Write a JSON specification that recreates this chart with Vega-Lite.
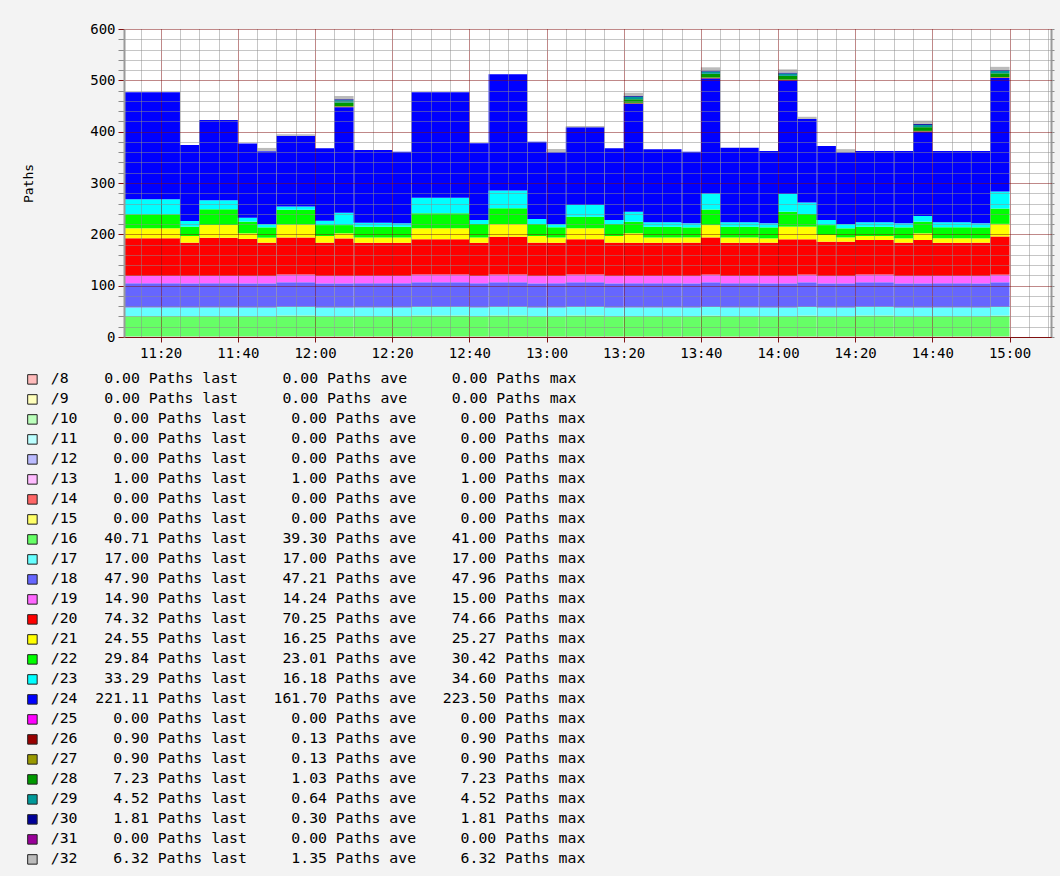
{
"$schema": "https://vega.github.io/schema/vega-lite/v6.json",
"width": 927, "height": 308,
"autosize": {"type": "none"},
"padding": {"left": 124, "top": 29, "right": 9, "bottom": 539},
"background": "#f3f3f3",
"config": {"font": "DejaVu Sans Mono", "view": {"fill": "#ffffff", "stroke": null}},
"datasets": {"legend": [
{"k":8,"entry":"/8\u00a0\u00a0\u00a0\u00a00.00 Paths last\u00a0\u00a0\u00a0\u00a0\u00a00.00 Paths ave\u00a0\u00a0\u00a0\u00a0\u00a00.00 Paths max"},
{"k":9,"entry":"/9\u00a0\u00a0\u00a0\u00a00.00 Paths last\u00a0\u00a0\u00a0\u00a0\u00a00.00 Paths ave\u00a0\u00a0\u00a0\u00a0\u00a00.00 Paths max"},
{"k":10,"entry":"/10\u00a0\u00a0\u00a0\u00a00.00 Paths last\u00a0\u00a0\u00a0\u00a0\u00a00.00 Paths ave\u00a0\u00a0\u00a0\u00a0\u00a00.00 Paths max"},
{"k":11,"entry":"/11\u00a0\u00a0\u00a0\u00a00.00 Paths last\u00a0\u00a0\u00a0\u00a0\u00a00.00 Paths ave\u00a0\u00a0\u00a0\u00a0\u00a00.00 Paths max"},
{"k":12,"entry":"/12\u00a0\u00a0\u00a0\u00a00.00 Paths last\u00a0\u00a0\u00a0\u00a0\u00a00.00 Paths ave\u00a0\u00a0\u00a0\u00a0\u00a00.00 Paths max"},
{"k":13,"entry":"/13\u00a0\u00a0\u00a0\u00a01.00 Paths last\u00a0\u00a0\u00a0\u00a0\u00a01.00 Paths ave\u00a0\u00a0\u00a0\u00a0\u00a01.00 Paths max"},
{"k":14,"entry":"/14\u00a0\u00a0\u00a0\u00a00.00 Paths last\u00a0\u00a0\u00a0\u00a0\u00a00.00 Paths ave\u00a0\u00a0\u00a0\u00a0\u00a00.00 Paths max"},
{"k":15,"entry":"/15\u00a0\u00a0\u00a0\u00a00.00 Paths last\u00a0\u00a0\u00a0\u00a0\u00a00.00 Paths ave\u00a0\u00a0\u00a0\u00a0\u00a00.00 Paths max"},
{"k":16,"entry":"/16\u00a0\u00a0\u00a040.71 Paths last\u00a0\u00a0\u00a0\u00a039.30 Paths ave\u00a0\u00a0\u00a0\u00a041.00 Paths max"},
{"k":17,"entry":"/17\u00a0\u00a0\u00a017.00 Paths last\u00a0\u00a0\u00a0\u00a017.00 Paths ave\u00a0\u00a0\u00a0\u00a017.00 Paths max"},
{"k":18,"entry":"/18\u00a0\u00a0\u00a047.90 Paths last\u00a0\u00a0\u00a0\u00a047.21 Paths ave\u00a0\u00a0\u00a0\u00a047.96 Paths max"},
{"k":19,"entry":"/19\u00a0\u00a0\u00a014.90 Paths last\u00a0\u00a0\u00a0\u00a014.24 Paths ave\u00a0\u00a0\u00a0\u00a015.00 Paths max"},
{"k":20,"entry":"/20\u00a0\u00a0\u00a074.32 Paths last\u00a0\u00a0\u00a0\u00a070.25 Paths ave\u00a0\u00a0\u00a0\u00a074.66 Paths max"},
{"k":21,"entry":"/21\u00a0\u00a0\u00a024.55 Paths last\u00a0\u00a0\u00a0\u00a016.25 Paths ave\u00a0\u00a0\u00a0\u00a025.27 Paths max"},
{"k":22,"entry":"/22\u00a0\u00a0\u00a029.84 Paths last\u00a0\u00a0\u00a0\u00a023.01 Paths ave\u00a0\u00a0\u00a0\u00a030.42 Paths max"},
{"k":23,"entry":"/23\u00a0\u00a0\u00a033.29 Paths last\u00a0\u00a0\u00a0\u00a016.18 Paths ave\u00a0\u00a0\u00a0\u00a034.60 Paths max"},
{"k":24,"entry":"/24\u00a0\u00a0221.11 Paths last\u00a0\u00a0\u00a0161.70 Paths ave\u00a0\u00a0\u00a0223.50 Paths max"},
{"k":25,"entry":"/25\u00a0\u00a0\u00a0\u00a00.00 Paths last\u00a0\u00a0\u00a0\u00a0\u00a00.00 Paths ave\u00a0\u00a0\u00a0\u00a0\u00a00.00 Paths max"},
{"k":26,"entry":"/26\u00a0\u00a0\u00a0\u00a00.90 Paths last\u00a0\u00a0\u00a0\u00a0\u00a00.13 Paths ave\u00a0\u00a0\u00a0\u00a0\u00a00.90 Paths max"},
{"k":27,"entry":"/27\u00a0\u00a0\u00a0\u00a00.90 Paths last\u00a0\u00a0\u00a0\u00a0\u00a00.13 Paths ave\u00a0\u00a0\u00a0\u00a0\u00a00.90 Paths max"},
{"k":28,"entry":"/28\u00a0\u00a0\u00a0\u00a07.23 Paths last\u00a0\u00a0\u00a0\u00a0\u00a01.03 Paths ave\u00a0\u00a0\u00a0\u00a0\u00a07.23 Paths max"},
{"k":29,"entry":"/29\u00a0\u00a0\u00a0\u00a04.52 Paths last\u00a0\u00a0\u00a0\u00a0\u00a00.64 Paths ave\u00a0\u00a0\u00a0\u00a0\u00a04.52 Paths max"},
{"k":30,"entry":"/30\u00a0\u00a0\u00a0\u00a01.81 Paths last\u00a0\u00a0\u00a0\u00a0\u00a00.30 Paths ave\u00a0\u00a0\u00a0\u00a0\u00a01.81 Paths max"},
{"k":31,"entry":"/31\u00a0\u00a0\u00a0\u00a00.00 Paths last\u00a0\u00a0\u00a0\u00a0\u00a00.00 Paths ave\u00a0\u00a0\u00a0\u00a0\u00a00.00 Paths max"},
{"k":32,"entry":"/32\u00a0\u00a0\u00a0\u00a06.32 Paths last\u00a0\u00a0\u00a0\u00a0\u00a01.35 Paths ave\u00a0\u00a0\u00a0\u00a0\u00a06.32 Paths max"}
]},
"data": {"format": {"parse": {"a": "utc:'%H:%M'", "b": "utc:'%H:%M'"}}, "values": [
{"a":"11:10","b":"11:25","k":13,"v":1},{"a":"11:10","b":"11:25","k":16,"v":39.3},{"a":"11:10","b":"11:25","k":17,"v":17},{"a":"11:10","b":"11:25","k":18,"v":47.2},{"a":"11:10","b":"11:25","k":19,"v":14.2},{"a":"11:10","b":"11:25","k":20,"v":73.5},{"a":"11:10","b":"11:25","k":21,"v":19.5},{"a":"11:10","b":"11:25","k":22,"v":27.3},{"a":"11:10","b":"11:25","k":23,"v":29.2},{"a":"11:10","b":"11:25","k":24,"v":208.4},
{"a":"11:25","b":"11:30","k":13,"v":1},{"a":"11:25","b":"11:30","k":16,"v":39.3},{"a":"11:25","b":"11:30","k":17,"v":17},{"a":"11:25","b":"11:30","k":18,"v":47.2},{"a":"11:25","b":"11:30","k":19,"v":14.2},{"a":"11:25","b":"11:30","k":20,"v":65.1},{"a":"11:25","b":"11:30","k":21,"v":13},{"a":"11:25","b":"11:30","k":22,"v":18.2},{"a":"11:25","b":"11:30","k":23,"v":11},{"a":"11:25","b":"11:30","k":24,"v":148},
{"a":"11:30","b":"11:40","k":13,"v":1},{"a":"11:30","b":"11:40","k":16,"v":39.3},{"a":"11:30","b":"11:40","k":17,"v":17},{"a":"11:30","b":"11:40","k":18,"v":47.2},{"a":"11:30","b":"11:40","k":19,"v":14.2},{"a":"11:30","b":"11:40","k":20,"v":74.5},{"a":"11:30","b":"11:40","k":21,"v":25.2},{"a":"11:30","b":"11:40","k":22,"v":30.4},{"a":"11:30","b":"11:40","k":23,"v":17.4},{"a":"11:30","b":"11:40","k":24,"v":156.7},
{"a":"11:40","b":"11:45","k":13,"v":1},{"a":"11:40","b":"11:45","k":16,"v":39.3},{"a":"11:40","b":"11:45","k":17,"v":17},{"a":"11:40","b":"11:45","k":18,"v":47.2},{"a":"11:40","b":"11:45","k":19,"v":14.2},{"a":"11:40","b":"11:45","k":20,"v":72.3},{"a":"11:40","b":"11:45","k":21,"v":11},{"a":"11:40","b":"11:45","k":22,"v":22.7},{"a":"11:40","b":"11:45","k":23,"v":7.8},{"a":"11:40","b":"11:45","k":24,"v":144.5},
{"a":"11:45","b":"11:50","k":13,"v":1},{"a":"11:45","b":"11:50","k":16,"v":39.3},{"a":"11:45","b":"11:50","k":17,"v":17},{"a":"11:45","b":"11:50","k":18,"v":47.2},{"a":"11:45","b":"11:50","k":19,"v":14.2},{"a":"11:45","b":"11:50","k":20,"v":65.1},{"a":"11:45","b":"11:50","k":21,"v":9.7},{"a":"11:45","b":"11:50","k":22,"v":20.1},{"a":"11:45","b":"11:50","k":23,"v":6.4},{"a":"11:45","b":"11:50","k":24,"v":142},{"a":"11:45","b":"11:50","k":32,"v":6.3},
{"a":"11:50","b":"12:00","k":13,"v":1},{"a":"11:50","b":"12:00","k":16,"v":40.7},{"a":"11:50","b":"12:00","k":17,"v":17},{"a":"11:50","b":"12:00","k":18,"v":47.9},{"a":"11:50","b":"12:00","k":19,"v":15},{"a":"11:50","b":"12:00","k":20,"v":72.4},{"a":"11:50","b":"12:00","k":21,"v":25.2},{"a":"11:50","b":"12:00","k":22,"v":28.6},{"a":"11:50","b":"12:00","k":23,"v":6.6},{"a":"11:50","b":"12:00","k":24,"v":137.6},{"a":"11:50","b":"12:00","k":32,"v":3},
{"a":"12:00","b":"12:05","k":13,"v":1},{"a":"12:00","b":"12:05","k":16,"v":39.3},{"a":"12:00","b":"12:05","k":17,"v":17},{"a":"12:00","b":"12:05","k":18,"v":47.2},{"a":"12:00","b":"12:05","k":19,"v":14.2},{"a":"12:00","b":"12:05","k":20,"v":65.1},{"a":"12:00","b":"12:05","k":21,"v":13},{"a":"12:00","b":"12:05","k":22,"v":21.2},{"a":"12:00","b":"12:05","k":23,"v":8.6},{"a":"12:00","b":"12:05","k":24,"v":140.9},
{"a":"12:05","b":"12:10","k":13,"v":1},{"a":"12:05","b":"12:10","k":16,"v":39.3},{"a":"12:05","b":"12:10","k":17,"v":17},{"a":"12:05","b":"12:10","k":18,"v":47.2},{"a":"12:05","b":"12:10","k":19,"v":14.2},{"a":"12:05","b":"12:10","k":20,"v":73.3},{"a":"12:05","b":"12:10","k":21,"v":10},{"a":"12:05","b":"12:10","k":22,"v":16},{"a":"12:05","b":"12:10","k":23,"v":24},{"a":"12:05","b":"12:10","k":24,"v":205.8},{"a":"12:05","b":"12:10","k":26,"v":0.9},{"a":"12:05","b":"12:10","k":27,"v":0.9},{"a":"12:05","b":"12:10","k":28,"v":7.23},{"a":"12:05","b":"12:10","k":29,"v":4.52},{"a":"12:05","b":"12:10","k":30,"v":1.81},{"a":"12:05","b":"12:10","k":32,"v":6.32},
{"a":"12:10","b":"12:20","k":13,"v":1},{"a":"12:10","b":"12:20","k":16,"v":39.3},{"a":"12:10","b":"12:20","k":17,"v":17},{"a":"12:10","b":"12:20","k":18,"v":47.2},{"a":"12:10","b":"12:20","k":19,"v":14.2},{"a":"12:10","b":"12:20","k":20,"v":65.1},{"a":"12:10","b":"12:20","k":21,"v":10.2},{"a":"12:10","b":"12:20","k":22,"v":21},{"a":"12:10","b":"12:20","k":23,"v":7.7},{"a":"12:10","b":"12:20","k":24,"v":141.6},
{"a":"12:20","b":"12:25","k":13,"v":1},{"a":"12:20","b":"12:25","k":16,"v":39.3},{"a":"12:20","b":"12:25","k":17,"v":17},{"a":"12:20","b":"12:25","k":18,"v":47.2},{"a":"12:20","b":"12:25","k":19,"v":14.2},{"a":"12:20","b":"12:25","k":20,"v":65.1},{"a":"12:20","b":"12:25","k":21,"v":10.2},{"a":"12:20","b":"12:25","k":22,"v":21},{"a":"12:20","b":"12:25","k":23,"v":6.4},{"a":"12:20","b":"12:25","k":24,"v":139.6},
{"a":"12:25","b":"12:40","k":13,"v":1},{"a":"12:25","b":"12:40","k":16,"v":40.7},{"a":"12:25","b":"12:40","k":17,"v":17},{"a":"12:25","b":"12:40","k":18,"v":47.9},{"a":"12:25","b":"12:40","k":19,"v":15},{"a":"12:25","b":"12:40","k":20,"v":68.7},{"a":"12:25","b":"12:40","k":21,"v":21.4},{"a":"12:25","b":"12:40","k":22,"v":29.3},{"a":"12:25","b":"12:40","k":23,"v":30.4},{"a":"12:25","b":"12:40","k":24,"v":205.2},
{"a":"12:40","b":"12:45","k":13,"v":1},{"a":"12:40","b":"12:45","k":16,"v":39.3},{"a":"12:40","b":"12:45","k":17,"v":17},{"a":"12:40","b":"12:45","k":18,"v":47.2},{"a":"12:40","b":"12:45","k":19,"v":14.2},{"a":"12:40","b":"12:45","k":20,"v":65.1},{"a":"12:40","b":"12:45","k":21,"v":10.2},{"a":"12:40","b":"12:45","k":22,"v":26},{"a":"12:40","b":"12:45","k":23,"v":8},{"a":"12:40","b":"12:45","k":24,"v":149.3},
{"a":"12:45","b":"12:55","k":13,"v":1},{"a":"12:45","b":"12:55","k":16,"v":40.7},{"a":"12:45","b":"12:55","k":17,"v":17},{"a":"12:45","b":"12:55","k":18,"v":47.9},{"a":"12:45","b":"12:55","k":19,"v":15},{"a":"12:45","b":"12:55","k":20,"v":73.5},{"a":"12:45","b":"12:55","k":21,"v":25.2},{"a":"12:45","b":"12:55","k":22,"v":30.4},{"a":"12:45","b":"12:55","k":23,"v":34.6},{"a":"12:45","b":"12:55","k":24,"v":226.5},
{"a":"12:55","b":"13:00","k":13,"v":1},{"a":"12:55","b":"13:00","k":16,"v":39.3},{"a":"12:55","b":"13:00","k":17,"v":17},{"a":"12:55","b":"13:00","k":18,"v":47.2},{"a":"12:55","b":"13:00","k":19,"v":14.2},{"a":"12:55","b":"13:00","k":20,"v":65.1},{"a":"12:55","b":"13:00","k":21,"v":13},{"a":"12:55","b":"13:00","k":22,"v":23.2},{"a":"12:55","b":"13:00","k":23,"v":9.9},{"a":"12:55","b":"13:00","k":24,"v":150.6},
{"a":"13:00","b":"13:05","k":13,"v":1},{"a":"13:00","b":"13:05","k":16,"v":39.3},{"a":"13:00","b":"13:05","k":17,"v":17},{"a":"13:00","b":"13:05","k":18,"v":47.2},{"a":"13:00","b":"13:05","k":19,"v":14.2},{"a":"13:00","b":"13:05","k":20,"v":65.1},{"a":"13:00","b":"13:05","k":21,"v":10.2},{"a":"13:00","b":"13:05","k":22,"v":19.6},{"a":"13:00","b":"13:05","k":23,"v":6.4},{"a":"13:00","b":"13:05","k":24,"v":139.7},{"a":"13:00","b":"13:05","k":32,"v":6.3},
{"a":"13:05","b":"13:15","k":13,"v":1},{"a":"13:05","b":"13:15","k":16,"v":40.7},{"a":"13:05","b":"13:15","k":17,"v":17},{"a":"13:05","b":"13:15","k":18,"v":47.9},{"a":"13:05","b":"13:15","k":19,"v":15},{"a":"13:05","b":"13:15","k":20,"v":68.7},{"a":"13:05","b":"13:15","k":21,"v":21.4},{"a":"13:05","b":"13:15","k":22,"v":22.7},{"a":"13:05","b":"13:15","k":23,"v":22.6},{"a":"13:05","b":"13:15","k":24,"v":151.4},{"a":"13:05","b":"13:15","k":32,"v":2.5},
{"a":"13:15","b":"13:20","k":13,"v":1},{"a":"13:15","b":"13:20","k":16,"v":39.3},{"a":"13:15","b":"13:20","k":17,"v":17},{"a":"13:15","b":"13:20","k":18,"v":47.2},{"a":"13:15","b":"13:20","k":19,"v":14.2},{"a":"13:15","b":"13:20","k":20,"v":65.1},{"a":"13:15","b":"13:20","k":21,"v":13},{"a":"13:15","b":"13:20","k":22,"v":23.2},{"a":"13:15","b":"13:20","k":23,"v":8},{"a":"13:15","b":"13:20","k":24,"v":139.5},
{"a":"13:20","b":"13:25","k":13,"v":1},{"a":"13:20","b":"13:25","k":16,"v":39.3},{"a":"13:20","b":"13:25","k":17,"v":17},{"a":"13:20","b":"13:25","k":18,"v":47.2},{"a":"13:20","b":"13:25","k":19,"v":14.2},{"a":"13:20","b":"13:25","k":20,"v":65.1},{"a":"13:20","b":"13:25","k":21,"v":18.2},{"a":"13:20","b":"13:25","k":22,"v":22.7},{"a":"13:20","b":"13:25","k":23,"v":19.3},{"a":"13:20","b":"13:25","k":24,"v":210.3},{"a":"13:20","b":"13:25","k":26,"v":0.9},{"a":"13:20","b":"13:25","k":27,"v":0.9},{"a":"13:20","b":"13:25","k":28,"v":7.23},{"a":"13:20","b":"13:25","k":29,"v":4.52},{"a":"13:20","b":"13:25","k":30,"v":1.81},{"a":"13:20","b":"13:25","k":32,"v":6.32},
{"a":"13:25","b":"13:35","k":13,"v":1},{"a":"13:25","b":"13:35","k":16,"v":39.3},{"a":"13:25","b":"13:35","k":17,"v":17},{"a":"13:25","b":"13:35","k":18,"v":47.2},{"a":"13:25","b":"13:35","k":19,"v":14.2},{"a":"13:25","b":"13:35","k":20,"v":65.1},{"a":"13:25","b":"13:35","k":21,"v":10.2},{"a":"13:25","b":"13:35","k":22,"v":21},{"a":"13:25","b":"13:35","k":23,"v":8.4},{"a":"13:25","b":"13:35","k":24,"v":142.2},
{"a":"13:35","b":"13:40","k":13,"v":1},{"a":"13:35","b":"13:40","k":16,"v":39.3},{"a":"13:35","b":"13:40","k":17,"v":17},{"a":"13:35","b":"13:40","k":18,"v":47.2},{"a":"13:35","b":"13:40","k":19,"v":14.2},{"a":"13:35","b":"13:40","k":20,"v":65.1},{"a":"13:35","b":"13:40","k":21,"v":10.2},{"a":"13:35","b":"13:40","k":22,"v":19.6},{"a":"13:35","b":"13:40","k":23,"v":7.8},{"a":"13:35","b":"13:40","k":24,"v":139.6},
{"a":"13:40","b":"13:45","k":13,"v":1},{"a":"13:40","b":"13:45","k":16,"v":40.7},{"a":"13:40","b":"13:45","k":17,"v":17},{"a":"13:40","b":"13:45","k":18,"v":47.9},{"a":"13:40","b":"13:45","k":19,"v":15},{"a":"13:40","b":"13:45","k":20,"v":72.4},{"a":"13:40","b":"13:45","k":21,"v":24},{"a":"13:40","b":"13:45","k":22,"v":30.4},{"a":"13:40","b":"13:45","k":23,"v":31.3},{"a":"13:40","b":"13:45","k":24,"v":224},{"a":"13:40","b":"13:45","k":26,"v":0.9},{"a":"13:40","b":"13:45","k":27,"v":0.9},{"a":"13:40","b":"13:45","k":28,"v":7.23},{"a":"13:40","b":"13:45","k":29,"v":4.52},{"a":"13:40","b":"13:45","k":30,"v":1.81},{"a":"13:40","b":"13:45","k":32,"v":6.32},
{"a":"13:45","b":"13:55","k":13,"v":1},{"a":"13:45","b":"13:55","k":16,"v":39.3},{"a":"13:45","b":"13:55","k":17,"v":17},{"a":"13:45","b":"13:55","k":18,"v":47.2},{"a":"13:45","b":"13:55","k":19,"v":14.2},{"a":"13:45","b":"13:55","k":20,"v":65.1},{"a":"13:45","b":"13:55","k":21,"v":10.2},{"a":"13:45","b":"13:55","k":22,"v":21},{"a":"13:45","b":"13:55","k":23,"v":8.4},{"a":"13:45","b":"13:55","k":24,"v":145.4},
{"a":"13:55","b":"14:00","k":13,"v":1},{"a":"13:55","b":"14:00","k":16,"v":39.3},{"a":"13:55","b":"14:00","k":17,"v":17},{"a":"13:55","b":"14:00","k":18,"v":47.2},{"a":"13:55","b":"14:00","k":19,"v":14.2},{"a":"13:55","b":"14:00","k":20,"v":65.1},{"a":"13:55","b":"14:00","k":21,"v":8.4},{"a":"13:55","b":"14:00","k":22,"v":21.4},{"a":"13:55","b":"14:00","k":23,"v":7.8},{"a":"13:55","b":"14:00","k":24,"v":140.9},
{"a":"14:00","b":"14:05","k":13,"v":1},{"a":"14:00","b":"14:05","k":16,"v":39.3},{"a":"14:00","b":"14:05","k":17,"v":17},{"a":"14:00","b":"14:05","k":18,"v":47.2},{"a":"14:00","b":"14:05","k":19,"v":14.2},{"a":"14:00","b":"14:05","k":20,"v":71.6},{"a":"14:00","b":"14:05","k":21,"v":24.7},{"a":"14:00","b":"14:05","k":22,"v":29},{"a":"14:00","b":"14:05","k":23,"v":34.6},{"a":"14:00","b":"14:05","k":24,"v":221.1},{"a":"14:00","b":"14:05","k":26,"v":0.9},{"a":"14:00","b":"14:05","k":27,"v":0.9},{"a":"14:00","b":"14:05","k":28,"v":7.23},{"a":"14:00","b":"14:05","k":29,"v":4.52},{"a":"14:00","b":"14:05","k":30,"v":1.81},{"a":"14:00","b":"14:05","k":32,"v":6.32},
{"a":"14:05","b":"14:10","k":13,"v":1},{"a":"14:05","b":"14:10","k":16,"v":40.7},{"a":"14:05","b":"14:10","k":17,"v":17},{"a":"14:05","b":"14:10","k":18,"v":47.9},{"a":"14:05","b":"14:10","k":19,"v":15},{"a":"14:05","b":"14:10","k":20,"v":68.7},{"a":"14:05","b":"14:10","k":21,"v":24.7},{"a":"14:05","b":"14:10","k":22,"v":24.6},{"a":"14:05","b":"14:10","k":23,"v":22.4},{"a":"14:05","b":"14:10","k":24,"v":162.7},{"a":"14:05","b":"14:10","k":32,"v":4.3},
{"a":"14:10","b":"14:15","k":13,"v":1},{"a":"14:10","b":"14:15","k":16,"v":39.3},{"a":"14:10","b":"14:15","k":17,"v":17},{"a":"14:10","b":"14:15","k":18,"v":47.2},{"a":"14:10","b":"14:15","k":19,"v":14.2},{"a":"14:10","b":"14:15","k":20,"v":67},{"a":"14:10","b":"14:15","k":21,"v":13},{"a":"14:10","b":"14:15","k":22,"v":19.3},{"a":"14:10","b":"14:15","k":23,"v":10},{"a":"14:10","b":"14:15","k":24,"v":144},
{"a":"14:15","b":"14:20","k":13,"v":1},{"a":"14:15","b":"14:20","k":16,"v":39.3},{"a":"14:15","b":"14:20","k":17,"v":17},{"a":"14:15","b":"14:20","k":18,"v":47.2},{"a":"14:15","b":"14:20","k":19,"v":14.2},{"a":"14:15","b":"14:20","k":20,"v":67},{"a":"14:15","b":"14:20","k":21,"v":8.3},{"a":"14:15","b":"14:20","k":22,"v":17.7},{"a":"14:15","b":"14:20","k":23,"v":8.3},{"a":"14:15","b":"14:20","k":24,"v":139.7},{"a":"14:15","b":"14:20","k":32,"v":6.3},
{"a":"14:20","b":"14:30","k":13,"v":1},{"a":"14:20","b":"14:30","k":16,"v":40.7},{"a":"14:20","b":"14:30","k":17,"v":17},{"a":"14:20","b":"14:30","k":18,"v":47.9},{"a":"14:20","b":"14:30","k":19,"v":15},{"a":"14:20","b":"14:30","k":20,"v":67.4},{"a":"14:20","b":"14:30","k":21,"v":7.8},{"a":"14:20","b":"14:30","k":22,"v":18.2},{"a":"14:20","b":"14:30","k":23,"v":8.4},{"a":"14:20","b":"14:30","k":24,"v":138.9},
{"a":"14:30","b":"14:35","k":13,"v":1},{"a":"14:30","b":"14:35","k":16,"v":39.3},{"a":"14:30","b":"14:35","k":17,"v":17},{"a":"14:30","b":"14:35","k":18,"v":47.2},{"a":"14:30","b":"14:35","k":19,"v":14.2},{"a":"14:30","b":"14:35","k":20,"v":65.1},{"a":"14:30","b":"14:35","k":21,"v":8.4},{"a":"14:30","b":"14:35","k":22,"v":21.4},{"a":"14:30","b":"14:35","k":23,"v":7.8},{"a":"14:30","b":"14:35","k":24,"v":140.9},
{"a":"14:35","b":"14:40","k":13,"v":1},{"a":"14:35","b":"14:40","k":16,"v":39.3},{"a":"14:35","b":"14:40","k":17,"v":17},{"a":"14:35","b":"14:40","k":18,"v":47.2},{"a":"14:35","b":"14:40","k":19,"v":14.2},{"a":"14:35","b":"14:40","k":20,"v":70.3},{"a":"14:35","b":"14:40","k":21,"v":13},{"a":"14:35","b":"14:40","k":22,"v":22.7},{"a":"14:35","b":"14:40","k":23,"v":11},{"a":"14:35","b":"14:40","k":24,"v":164},{"a":"14:35","b":"14:40","k":26,"v":0.9},{"a":"14:35","b":"14:40","k":27,"v":0.9},{"a":"14:35","b":"14:40","k":28,"v":7.23},{"a":"14:35","b":"14:40","k":29,"v":4.52},{"a":"14:35","b":"14:40","k":30,"v":1.81},{"a":"14:35","b":"14:40","k":32,"v":6.32},
{"a":"14:40","b":"14:50","k":13,"v":1},{"a":"14:40","b":"14:50","k":16,"v":39.3},{"a":"14:40","b":"14:50","k":17,"v":17},{"a":"14:40","b":"14:50","k":18,"v":47.2},{"a":"14:40","b":"14:50","k":19,"v":14.2},{"a":"14:40","b":"14:50","k":20,"v":65.1},{"a":"14:40","b":"14:50","k":21,"v":8.4},{"a":"14:40","b":"14:50","k":22,"v":21.4},{"a":"14:40","b":"14:50","k":23,"v":9.8},{"a":"14:40","b":"14:50","k":24,"v":138.9},
{"a":"14:50","b":"14:55","k":13,"v":1},{"a":"14:50","b":"14:55","k":16,"v":39.3},{"a":"14:50","b":"14:55","k":17,"v":17},{"a":"14:50","b":"14:55","k":18,"v":47.2},{"a":"14:50","b":"14:55","k":19,"v":14.2},{"a":"14:50","b":"14:55","k":20,"v":65.1},{"a":"14:50","b":"14:55","k":21,"v":8.4},{"a":"14:50","b":"14:55","k":22,"v":21.4},{"a":"14:50","b":"14:55","k":23,"v":7.8},{"a":"14:50","b":"14:55","k":24,"v":140.9},
{"a":"14:55","b":"15:00","k":13,"v":1},{"a":"14:55","b":"15:00","k":16,"v":40.71},{"a":"14:55","b":"15:00","k":17,"v":17},{"a":"14:55","b":"15:00","k":18,"v":47.9},{"a":"14:55","b":"15:00","k":19,"v":14.9},{"a":"14:55","b":"15:00","k":20,"v":74.32},{"a":"14:55","b":"15:00","k":21,"v":24.55},{"a":"14:55","b":"15:00","k":22,"v":29.84},{"a":"14:55","b":"15:00","k":23,"v":33.29},{"a":"14:55","b":"15:00","k":24,"v":221.11},{"a":"14:55","b":"15:00","k":26,"v":0.9},{"a":"14:55","b":"15:00","k":27,"v":0.9},{"a":"14:55","b":"15:00","k":28,"v":7.23},{"a":"14:55","b":"15:00","k":29,"v":4.52},{"a":"14:55","b":"15:00","k":30,"v":1.81},{"a":"14:55","b":"15:00","k":32,"v":6.32}
]},
"resolve": {"axis": {"x": "independent", "y": "independent"}},
"layer": [
{
"transform": [
{"lookup": "k", "from": {"data": {"name": "legend"}, "key": "k", "fields": ["entry"]}},
{"stack": "v", "groupby": ["a"], "sort": [{"field": "k", "order": "ascending"}], "as": ["v0", "v1"]}
],
"mark": {"type": "bar", "clip": true},
"encoding": {
"x": {"field": "a", "type": "temporal", "scale": {"type": "utc", "nice": false, "domain": [{"year":1900,"month":1,"date":1,"hours":11,"minutes":10,"seconds":30,"utc":true},{"year":1900,"month":1,"date":1,"hours":15,"minutes":10,"seconds":45,"utc":true}]},
"axis": {"orient": "bottom", "tickCount": 48,
"labelExpr": "utcminutes(datum.value) % 20 === 0 ? utcFormat(datum.value, '%H:%M') : ''",
"grid": true,
"gridColor": {"condition": {"test": "utcminutes(datum.value) % 20 === 0", "value": "#801010"}, "value": "#8c8c8c"},
"gridDash": [1, 1], "gridWidth": 1,
"domainColor": "#801010", "domainWidth": 1,
"tickColor": "#801010",
"tickOpacity": {"condition": {"test": "utcminutes(datum.value) % 20 === 0", "value": 1}, "value": 0},
"tickSize": 5, "labelFont": "DejaVu Sans Mono", "labelFontSize": 14, "labelColor": "#000000", "labelPadding": 4, "labelFlush": false, "labelOverlap": false, "title": null, "zindex": 1}},
"x2": {"field": "b"},
"y": {"field": "v0", "type": "quantitative", "scale": {"domain": [0, 600], "nice": false},
"axis": {"orient": "left", "values": [0, 20, 40, 60, 80, 100, 120, 140, 160, 180, 200, 220, 240, 260, 280, 300, 320, 340, 360, 380, 400, 420, 440, 460, 480, 500, 520, 540, 560, 580, 600],
"labelExpr": "datum.value % 100 === 0 ? datum.label : ''",
"grid": true,
"gridColor": {"condition": {"test": "datum.value % 100 === 0", "value": "#801010"}, "value": "#8c8c8c"},
"gridDash": [1, 1], "gridWidth": 1,
"domainColor": "#9a9a9a", "domainWidth": 2,
"tickColor": {"condition": {"test": "datum.value % 100 === 0", "value": "#801010"}, "value": "#8c8c8c"},
"tickSize": 6, "labelFont": "DejaVu Sans Mono", "labelFontSize": 14, "labelColor": "#000000", "labelPadding": 3, "labelOverlap": false,
"title": "Paths", "titleFont": "DejaVu Sans Mono", "titleFontSize": 13, "titleFontWeight": "normal", "titleColor": "#000000", "titlePadding": 54, "zindex": 1}},
"y2": {"field": "v1"},
"color": {"field": "entry", "type": "nominal",
"scale": {"domain": [
"/8\u00a0\u00a0\u00a0\u00a00.00 Paths last\u00a0\u00a0\u00a0\u00a0\u00a00.00 Paths ave\u00a0\u00a0\u00a0\u00a0\u00a00.00 Paths max",
"/9\u00a0\u00a0\u00a0\u00a00.00 Paths last\u00a0\u00a0\u00a0\u00a0\u00a00.00 Paths ave\u00a0\u00a0\u00a0\u00a0\u00a00.00 Paths max",
"/10\u00a0\u00a0\u00a0\u00a00.00 Paths last\u00a0\u00a0\u00a0\u00a0\u00a00.00 Paths ave\u00a0\u00a0\u00a0\u00a0\u00a00.00 Paths max",
"/11\u00a0\u00a0\u00a0\u00a00.00 Paths last\u00a0\u00a0\u00a0\u00a0\u00a00.00 Paths ave\u00a0\u00a0\u00a0\u00a0\u00a00.00 Paths max",
"/12\u00a0\u00a0\u00a0\u00a00.00 Paths last\u00a0\u00a0\u00a0\u00a0\u00a00.00 Paths ave\u00a0\u00a0\u00a0\u00a0\u00a00.00 Paths max",
"/13\u00a0\u00a0\u00a0\u00a01.00 Paths last\u00a0\u00a0\u00a0\u00a0\u00a01.00 Paths ave\u00a0\u00a0\u00a0\u00a0\u00a01.00 Paths max",
"/14\u00a0\u00a0\u00a0\u00a00.00 Paths last\u00a0\u00a0\u00a0\u00a0\u00a00.00 Paths ave\u00a0\u00a0\u00a0\u00a0\u00a00.00 Paths max",
"/15\u00a0\u00a0\u00a0\u00a00.00 Paths last\u00a0\u00a0\u00a0\u00a0\u00a00.00 Paths ave\u00a0\u00a0\u00a0\u00a0\u00a00.00 Paths max",
"/16\u00a0\u00a0\u00a040.71 Paths last\u00a0\u00a0\u00a0\u00a039.30 Paths ave\u00a0\u00a0\u00a0\u00a041.00 Paths max",
"/17\u00a0\u00a0\u00a017.00 Paths last\u00a0\u00a0\u00a0\u00a017.00 Paths ave\u00a0\u00a0\u00a0\u00a017.00 Paths max",
"/18\u00a0\u00a0\u00a047.90 Paths last\u00a0\u00a0\u00a0\u00a047.21 Paths ave\u00a0\u00a0\u00a0\u00a047.96 Paths max",
"/19\u00a0\u00a0\u00a014.90 Paths last\u00a0\u00a0\u00a0\u00a014.24 Paths ave\u00a0\u00a0\u00a0\u00a015.00 Paths max",
"/20\u00a0\u00a0\u00a074.32 Paths last\u00a0\u00a0\u00a0\u00a070.25 Paths ave\u00a0\u00a0\u00a0\u00a074.66 Paths max",
"/21\u00a0\u00a0\u00a024.55 Paths last\u00a0\u00a0\u00a0\u00a016.25 Paths ave\u00a0\u00a0\u00a0\u00a025.27 Paths max",
"/22\u00a0\u00a0\u00a029.84 Paths last\u00a0\u00a0\u00a0\u00a023.01 Paths ave\u00a0\u00a0\u00a0\u00a030.42 Paths max",
"/23\u00a0\u00a0\u00a033.29 Paths last\u00a0\u00a0\u00a0\u00a016.18 Paths ave\u00a0\u00a0\u00a0\u00a034.60 Paths max",
"/24\u00a0\u00a0221.11 Paths last\u00a0\u00a0\u00a0161.70 Paths ave\u00a0\u00a0\u00a0223.50 Paths max",
"/25\u00a0\u00a0\u00a0\u00a00.00 Paths last\u00a0\u00a0\u00a0\u00a0\u00a00.00 Paths ave\u00a0\u00a0\u00a0\u00a0\u00a00.00 Paths max",
"/26\u00a0\u00a0\u00a0\u00a00.90 Paths last\u00a0\u00a0\u00a0\u00a0\u00a00.13 Paths ave\u00a0\u00a0\u00a0\u00a0\u00a00.90 Paths max",
"/27\u00a0\u00a0\u00a0\u00a00.90 Paths last\u00a0\u00a0\u00a0\u00a0\u00a00.13 Paths ave\u00a0\u00a0\u00a0\u00a0\u00a00.90 Paths max",
"/28\u00a0\u00a0\u00a0\u00a07.23 Paths last\u00a0\u00a0\u00a0\u00a0\u00a01.03 Paths ave\u00a0\u00a0\u00a0\u00a0\u00a07.23 Paths max",
"/29\u00a0\u00a0\u00a0\u00a04.52 Paths last\u00a0\u00a0\u00a0\u00a0\u00a00.64 Paths ave\u00a0\u00a0\u00a0\u00a0\u00a04.52 Paths max",
"/30\u00a0\u00a0\u00a0\u00a01.81 Paths last\u00a0\u00a0\u00a0\u00a0\u00a00.30 Paths ave\u00a0\u00a0\u00a0\u00a0\u00a01.81 Paths max",
"/31\u00a0\u00a0\u00a0\u00a00.00 Paths last\u00a0\u00a0\u00a0\u00a0\u00a00.00 Paths ave\u00a0\u00a0\u00a0\u00a0\u00a00.00 Paths max",
"/32\u00a0\u00a0\u00a0\u00a06.32 Paths last\u00a0\u00a0\u00a0\u00a0\u00a01.35 Paths ave\u00a0\u00a0\u00a0\u00a0\u00a06.32 Paths max"
],
"range": ["#FFBBBB", "#FFFFBB", "#BBFFBB", "#BBFFFF", "#BBBBFF", "#FFBBFF", "#FF6666", "#FFFF66", "#66FF66", "#66FFFF", "#6666FF", "#FF66FF", "#FF0000", "#FFFF00", "#00FF00", "#00FFFF", "#0000FF", "#FF00FF", "#990000", "#999900", "#009900", "#009999", "#000099", "#990099", "#BBBBBB"]},
"legend": {"orient": "none", "legendX": -99, "legendY": 343, "title": null, "symbolType": "square", "symbolSize": 90, "symbolStrokeColor": "#222222", "symbolStrokeWidth": 1, "symbolOpacity": 1, "labelFont": "DejaVu Sans Mono", "labelFontSize": 14.8, "labelColor": "#000000", "labelLimit": 0, "labelOffset": 11, "rowPadding": 4, "padding": 0}}
}
},
{
"mark": {"type": "point", "opacity": 0},
"encoding": {
"x": {"field": "a", "type": "temporal", "scale": {"type": "utc", "nice": false, "domain": [{"year":1900,"month":1,"date":1,"hours":11,"minutes":10,"seconds":30,"utc":true},{"year":1900,"month":1,"date":1,"hours":15,"minutes":10,"seconds":45,"utc":true}]}, "axis": null},
"y": {"field": "v", "type": "quantitative", "scale": {"domain": [0, 600], "nice": false},
"axis": {"orient": "right", "tickCount": 30, "grid": false, "ticks": true, "tickSize": 3, "tickColor": "#8c8c8c", "labels": false, "domain": true, "domainColor": "#9a9a9a", "domainWidth": 2, "title": null}}
}
}
]
}
